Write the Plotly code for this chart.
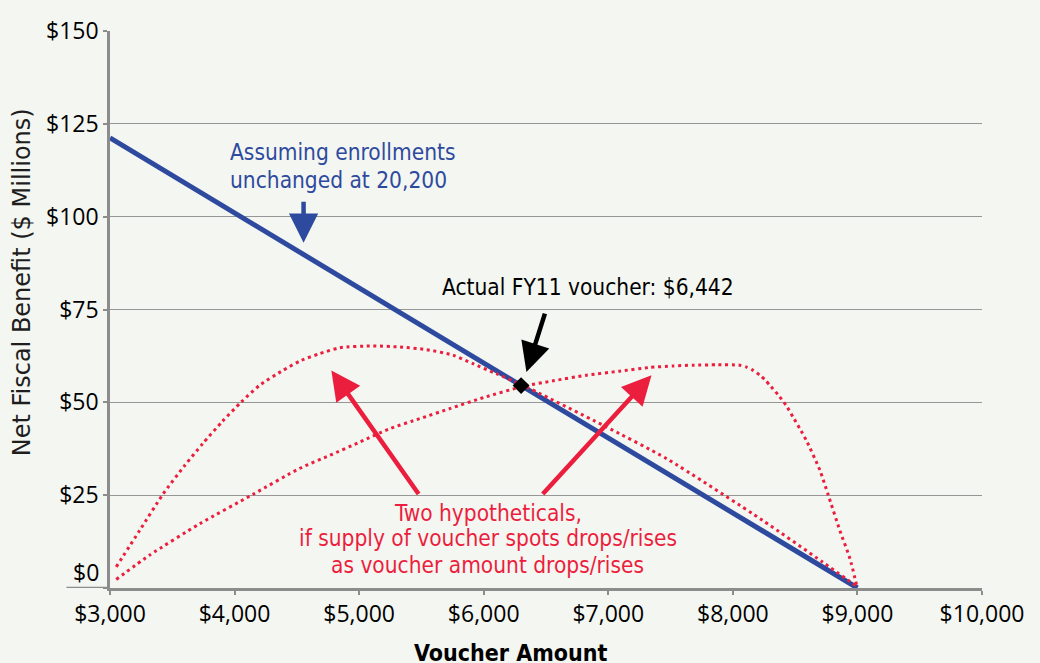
import plotly.graph_objects as go

# ---- data ----
blue_x = [3000, 9000]
blue_y = [121.2, 0.0]

drop_x = [3050, 3240, 3424, 3600, 3745, 3900, 4054, 4201, 4388, 4535, 4683, 4843, 5111, 5325, 5540, 5753,
          5914, 6102, 6289, 6960, 7470, 8240, 8720, 9000]
drop_y = [5.7, 15.6, 25.2, 33.0, 38.9, 44.8, 50.1, 54.6, 58.6, 61.3, 63.1, 64.7, 65.2, 64.9, 64.2, 62.7,
          60.4, 57.7, 55.0, 43.8, 34.8, 18.2, 7.0, 0.3]

rise_x = [3050, 3320, 3720, 4147, 4522, 4763, 5004, 5245, 5486, 5727, 6000, 6316, 6557, 6825, 7092, 7333,
          7520, 7681, 7869, 8056, 8110, 8163, 8217, 8257, 8297, 8364, 8431, 8484, 8538, 8592, 8699, 8766,
          8859, 8940, 8994]
rise_y = [2.3, 8.9, 17.3, 25.2, 32.2, 35.7, 39.3, 42.9, 45.6, 48.3, 51.3, 54.3, 55.8, 57.3, 58.4, 59.4,
          59.8, 60.0, 60.1, 60.0, 59.5, 58.6, 57.3, 56.1, 54.6, 52.0, 49.0, 46.0, 42.9, 39.6, 31.7, 25.0,
          15.5, 7.9, 0.7]

actual_x = [6300]
actual_y = [54.5]

x_ticks = [3000, 4000, 5000, 6000, 7000, 8000, 9000, 10000]
x_labels = ["$3,000", "$4,000", "$5,000", "$6,000", "$7,000", "$8,000", "$9,000", "$10,000"]
y_ticks = [0, 25, 50, 75, 100, 125, 150]
y_labels = ["", "$25", "$50", "$75", "$100", "$125", "$150"]

BG = "rgb(244,246,241)"
BLUE = "rgb(46,74,158)"
RED = "rgb(236,30,62)"
GRID = "rgb(150,150,150)"
AX = "rgb(140,140,140)"
COND = "Liberation Sans Narrow, DejaVu Sans Condensed, Arial Narrow, sans-serif"
REG = "Open Sans, Liberation Sans, sans-serif"
WIDE = "DejaVu Sans, Verdana, sans-serif"
TS = 22.5

fig = go.Figure()
fig.add_trace(go.Scatter(x=blue_x, y=blue_y, mode="lines",
                         line=dict(color=BLUE, width=5), hoverinfo="skip", showlegend=False))
for xs, ys in ((drop_x, drop_y), (rise_x, rise_y)):
    fig.add_trace(go.Scatter(x=xs, y=ys, mode="lines",
                             line=dict(color=RED, width=3, dash="3px,3.7px", shape="spline", smoothing=0.6),
                             hoverinfo="skip", showlegend=False))
fig.add_trace(go.Scatter(x=actual_x, y=actual_y, mode="markers",
                         marker=dict(symbol="diamond", size=13, color="black"),
                         hoverinfo="skip", showlegend=False))

ann = []


def arrow(tip, tail, color):
    return dict(x=tip[0], y=tip[1], ax=tail[0], ay=tail[1], xref="x", yref="y", axref="x", ayref="y",
                text="", showarrow=True, arrowhead=2, arrowsize=1.3, arrowwidth=4.5, arrowcolor=color,
                standoff=0, startstandoff=0)


ann.append(arrow((4554, 93.0), (4554, 104.4), BLUE))
ann.append(arrow((6343, 58.2), (6495, 74.3), "black"))
ann.append(arrow((4777, 58.6), (5486, 24.9), RED))
ann.append(arrow((7347, 57.3), (6463, 24.9), RED))


def txt(x, y, s, color, anchor="left"):
    return dict(x=x, y=y, xref="x", yref="y", text=s, showarrow=False, xanchor=anchor, yanchor="middle",
                font=dict(family=COND, size=TS, color=color))


ann.append(txt(3944, 117.3, "Assuming enrollments", BLUE))
ann.append(txt(3944, 109.8, "unchanged at 20,200", BLUE))
ann.append(txt(5646, 81.0, "Actual FY11 voucher: $6,442", "black"))
ann.append(txt(6032, 20.1, "Two hypotheticals,", RED, "center"))
ann.append(txt(6032, 13.4, "if supply of voucher spots drops/rises", RED, "center"))
ann.append(txt(6032, 6.1, "as voucher amount drops/rises", RED, "center"))

# $0 label (raised above the axis like the reference)
ann.append(dict(x=0, y=0, xref="paper", yref="y", text="$0", showarrow=False, xanchor="right",
                yanchor="middle", xshift=-9, yshift=16, font=dict(family=REG, size=23, color="black")))

# axis titles
ann.append(dict(x=(510 - 110) / 872, y=(587.7 - 653) / 557, xref="paper", yref="paper",
                text="<b>Voucher Amount</b>", showarrow=False, xanchor="center", yanchor="middle",
                font=dict(family=COND, size=23, color="black")))
ann.append(dict(x=(22 - 110) / 872, y=(587.7 - 282) / 557, xref="paper", yref="paper",
                text="Net Fiscal Benefit ($ Millions)", showarrow=False, textangle=-90,
                xanchor="center", yanchor="middle", font=dict(family=WIDE, size=24, color="rgb(30,30,30)")))

fig.update_layout(
    width=1040, height=663,
    margin=dict(l=110, r=58, t=31, b=75),
    paper_bgcolor=BG, plot_bgcolor=BG,
    annotations=ann,
    shapes=[dict(type="line", xref="paper", yref="y", x0=-0.05, x1=0, y0=0, y1=0,
                 line=dict(color=AX, width=2.5))],
)
fig.update_xaxes(range=[3000, 10000], tickvals=x_ticks, ticktext=x_labels, showgrid=False,
                 showline=True, linecolor=AX, linewidth=2.5, ticks="outside", ticklen=4, tickcolor=AX,
                 tickwidth=1.5, tickfont=dict(family=REG, size=23, color="black"), zeroline=False)
fig.update_yaxes(range=[0, 150], tickvals=y_ticks, ticktext=y_labels, showgrid=True, gridcolor=GRID,
                 gridwidth=1.3, showline=True, linecolor=AX, linewidth=2.5, ticks="outside", ticklen=4,
                 tickcolor=AX, tickwidth=1.5, tickfont=dict(family=REG, size=23, color="black"),
                 zeroline=False, ticklabelstandoff=0)

fig.write_html("out.html", config={"displayModeBar": False},
               post_script="document.body.style.margin='0';document.body.style.background='rgb(244,246,241)';")
